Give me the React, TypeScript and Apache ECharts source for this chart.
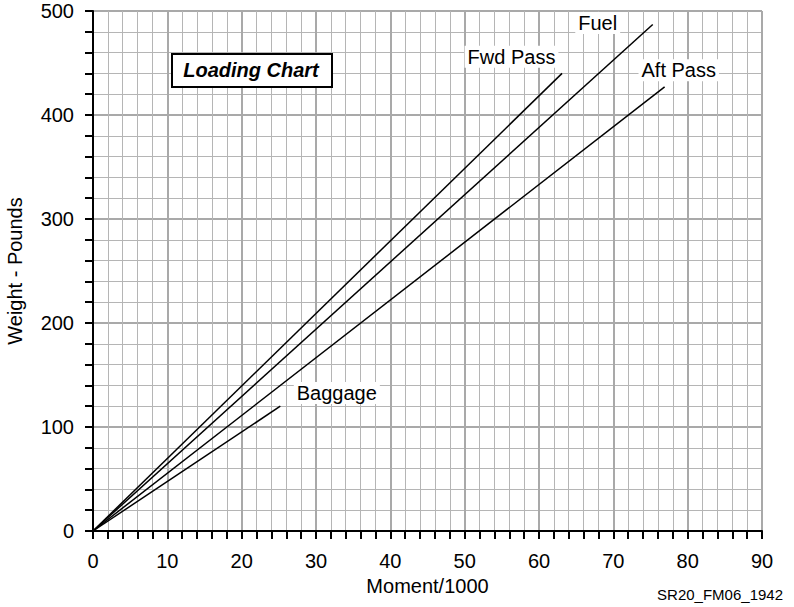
import React, { useEffect, useRef } from "react";
import * as echarts from "echarts";

// Loading lines: each runs from the origin to its end point (moment/1000, weight lb)
const lineNames = ["Fwd Pass", "Fuel", "Aft Pass", "Baggage"];
const endMoments = [63.1, 75.3, 76.9, 25.2];
const endWeights = [440, 487, 427, 120];
// label anchor positions in data coordinates
const labelMoments = [56.3, 67.9, 78.8, 32.8];
const labelWeights = [456, 488.5, 443, 132.7];

const FONT = "'Liberation Sans', Arial, Helvetica, sans-serif";

export default function App() {
  const ref = useRef<HTMLDivElement>(null);
  useEffect(() => {
    if (!ref.current) return;
    const chart = echarts.init(ref.current, null, { renderer: "svg" });
    const axisCommon = {
      type: "value" as const,
      axisLine: { show: true, lineStyle: { color: "#000", width: 2 } },
      axisTick: { show: true, length: 8, lineStyle: { color: "#000", width: 2 } },
      minorTick: { show: true, splitNumber: 5, length: 8, lineStyle: { color: "#000", width: 2 } },
      splitLine: { show: true, lineStyle: { color: "#a9a9a9", width: 2 } },
      minorSplitLine: { show: true, lineStyle: { color: "#b5b5b5", width: 1 } },
      axisLabel: { color: "#000", fontSize: 20, fontFamily: FONT },
      nameTextStyle: { color: "#000", fontSize: 20, fontFamily: FONT },
      nameLocation: "middle" as const,
    };
    const lineSeries = lineNames.map((n, i) => ({
      type: "line",
      name: n,
      data: [
        [0, 0],
        [endMoments[i], endWeights[i]],
      ],
      symbol: "none",
      lineStyle: { color: "#000", width: 1.5 },
      z: 3,
    }));
    chart.setOption({
      animation: false,
      grid: { left: 93, right: 32, top: 11, bottom: 76, containLabel: false, outerBoundsMode: "none" },
      xAxis: {
        ...axisCommon,
        min: 0,
        max: 90,
        interval: 10,
        name: "Moment/1000",
        nameGap: 45,
        axisLabel: { ...axisCommon.axisLabel, margin: 20 },
      },
      yAxis: {
        ...axisCommon,
        min: 0,
        max: 500,
        interval: 100,
        name: "Weight - Pounds",
        nameGap: 68,
        axisLabel: { ...axisCommon.axisLabel, margin: 19 },
      },
      series: [
        ...lineSeries,
        {
          type: "scatter",
          symbolSize: 0,
          silent: true,
          z: 5,
          data: lineNames.map((n, i) => ({ value: [labelMoments[i], labelWeights[i]], name: n })),
          label: {
            show: true,
            position: "inside",
            formatter: (p: any) => p.name,
            color: "#000",
            fontSize: 20,
            fontFamily: FONT,
            backgroundColor: "#fff",
            padding: [1, 3],
            opacity: 1,
          },
        },
      ],
      graphic: [
        {
          type: "rect",
          left: 171,
          top: 53,
          shape: { x: 0, y: 0, width: 160, height: 33 },
          style: { fill: "#fff", stroke: "#000", lineWidth: 2 },
          z: 10,
        },
        {
          type: "text",
          x: 251,
          y: 70,
          z: 11,
          style: {
            text: "Loading Chart",
            align: "center",
            verticalAlign: "middle",
            fontSize: 20,
            fontWeight: "bold",
            fontStyle: "italic",
            fontFamily: FONT,
            fill: "#000",
          },
        },
        {
          type: "text",
          right: 11,
          top: 587,
          style: {
            text: "SR20_FM06_1942",
            fontSize: 15,
            fontFamily: FONT,
            fill: "#000",
          },
        },
      ],
    });
    return () => chart.dispose();
  }, []);
  return (
    <div
      ref={ref}
      style={{ position: "fixed", left: 0, top: 0, width: 794, height: 607, background: "#fff" }}
    />
  );
}
